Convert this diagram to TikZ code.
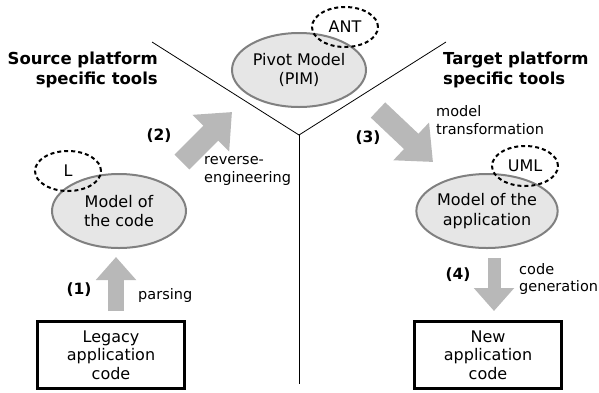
\documentclass[tikz,border=0pt]{standalone}
\usepackage{fontspec}
\setmainfont{DejaVu Sans}
\usetikzlibrary{arrows.meta,shapes.geometric}
\definecolor{ellfill}{HTML}{E6E6E6}
\definecolor{ellline}{HTML}{808080}
\definecolor{arrfill}{HTML}{B8B8B8}
\tikzset{
  model/.style={ellipse, draw=ellline, fill=ellfill, line width=2pt, minimum width=134pt, minimum height=74pt, inner sep=0pt, align=center, font=\fontsize{16}{19.5}\selectfont},
  lang/.style={ellipse, draw=black, dash pattern=on 4pt off 3pt, line width=2pt, minimum width=66pt, minimum height=40pt, inner sep=0pt, font=\fontsize{16}{19.5}\selectfont},
  codebox/.style={draw=black, line width=2.4pt, minimum width=147pt, minimum height=67pt, inner sep=0pt, align=center, font=\fontsize{16}{18.5}\selectfont},
  fatarrow/.style={color=arrfill, line width=16pt, -{Triangle[length=23pt, width=39pt]}},
  bigarrow/.style={color=arrfill, line width=21pt, -{Triangle[length=30pt, width=50pt]}},
  steplabel/.style={font=\bfseries\fontsize{15.5}{18}\selectfont},
  arrlabel/.style={align=left, anchor=west, inner sep=0pt, font=\fontsize{14.5}{17.5}\selectfont},
  heading/.style={font=\bfseries\fontsize{16.5}{19.5}\selectfont, inner sep=0pt},
  divider/.style={line width=0.8pt, black}
}
\begin{document}
\begin{tikzpicture}[x=1pt, y=-1pt]
\useasboundingbox (0,0) rectangle (599,392);
% dividers
\coordinate (lt) at (152,42);
\coordinate (rt) at (446,42);
\coordinate (mid) at (299,135);
\coordinate (bot) at (299,384);
\draw[divider] (lt) -- (mid) -- (rt);
\draw[divider] (mid) -- (bot);
% headings
\node[heading, align=right, anchor=east] (src) at (158,70) {Source platform\\specific tools};
\node[heading, align=left, anchor=west] (tgt) at (443,70) {Target platform\\specific tools};
% models
\node[model] (pim) at (299,70) {Pivot Model\\(PIM)};
\node[lang] (ant) at (345,27) {ANT};
\node[model] (mcode) at (119,211) {Model of\\the code};
\node[lang] (L) at (68,171) {L};
\node[model] (mapp) at (487,211) {Model of the\\application};
\node[lang] (uml) at (525,166) {UML};
% boxes
\node[codebox] (legacy) at (111,355) {Legacy\\application\\code};
\node[codebox] (new) at (488,355) {New\\application\\code};
% arrow coordinates
\coordinate (a1s) at (116,311);
\coordinate (a1e) at (116,257);
\coordinate (a2s) at (182,162);
\coordinate (a2e) at (232,112);
\coordinate (a3s) at (378,110);
\coordinate (a3e) at (433,162);
\coordinate (a4s) at (494,258);
\coordinate (a4e) at (494,311);
\draw[fatarrow] (a1s) -- (a1e);
\draw[bigarrow] (a2s) -- (a2e);
\draw[bigarrow] (a3s) -- (a3e);
\draw[fatarrow, line width=13pt] (a4s) -- (a4e);
% labels
\node[steplabel] (l1) at (79,290) {(1)};
\node[arrlabel] (t1) at (138,295) {parsing};
\node[steplabel] (l2) at (159,136) {(2)};
\node[arrlabel] (t2) at (204,171) {reverse-\\engineering};
\node[steplabel] (l3) at (368,138) {(3)};
\node[arrlabel] (t3) at (436,120) {model\\transformation};
\node[steplabel] (l4) at (458,275) {(4)};
\node[arrlabel] (t4) at (519,279) {code\\generation};
\end{tikzpicture}
\end{document}
